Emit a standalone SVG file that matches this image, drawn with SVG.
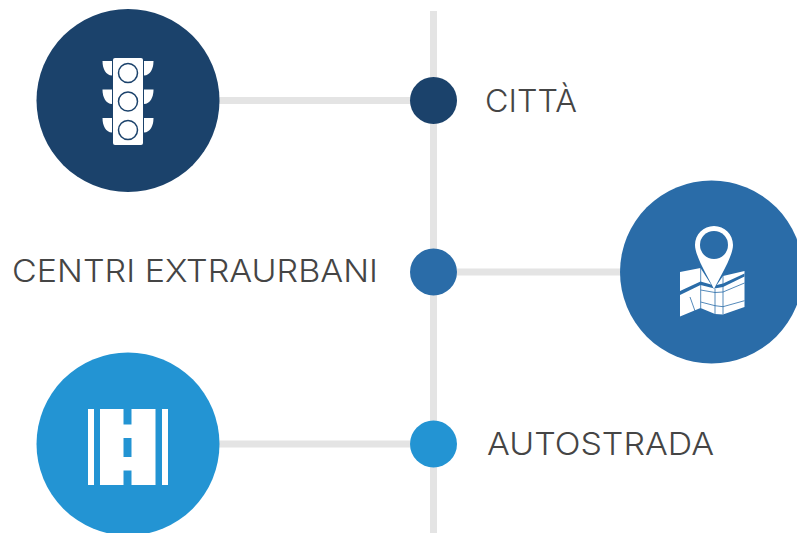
<svg xmlns="http://www.w3.org/2000/svg" width="797" height="533" viewBox="0 0 797 533">
<style>
.conn{stroke:#e4e4e4;stroke-width:7;fill:none}
.lbl{font-family:Inter,"Open Sans","Liberation Sans",sans-serif;font-size:31px;fill:#454545;font-weight:300}
.w{fill:#fff}
.nl{fill:none;stroke:#2a6ca8;stroke-width:0.8}
</style>
<defs>
<g id="hood"><path d="M102.500 61H112V75.500C106 75.500 102.500 69 102.500 61Z" class="w"/><path d="M153.500 61H144V75.500C150 75.500 153.500 69 153.500 61Z" class="w"/></g>
</defs>
<g id="connectors">
<line class="conn" x1="433.500" y1="11" x2="433.500" y2="533"/>
<line class="conn" x1="215" y1="100.500" x2="433" y2="100.500"/>
<line class="conn" x1="433" y1="272" x2="625" y2="272"/>
<line class="conn" x1="215" y1="444" x2="433" y2="444"/>
</g>
<g id="node-citta">
<circle cx="128" cy="100.500" r="91.500" fill="#1b426b"/>
<use href="#hood"/><use href="#hood" y="28.500"/><use href="#hood" y="57"/>
<rect x="113" y="58" width="30" height="87" rx="2" class="w"/>
<g fill="#fff" stroke="#1b426b" stroke-width="1.500"><circle cx="128" cy="73" r="9.500"/><circle cx="128" cy="101.500" r="9.500"/><circle cx="128" cy="130" r="9.500"/></g>
<circle cx="433.500" cy="100.500" r="23.500" fill="#1b426b"/>
<text class="lbl" x="485" y="112" textLength="92" lengthAdjust="spacingAndGlyphs">CITTÀ</text>
</g>
<g id="node-centri">
<circle cx="711.500" cy="272" r="91.500" fill="#2a6ca8"/>
<path d="M680 272L700.500 268L714 289L723 276L744.500 271V307L723 314.500L715 314L700.500 308L680 316.500Z" class="w"/>
<path d="M680 291L700.500 281.500L714.500 285.500L723 283.500L744.500 273.500V276.500L723 287L714.500 288.500L700.500 285L680 295Z" fill="#2a6ca8"/>
<path class="nl" d="M700.700 268V308M715 289V314M723 276V314.500M700.700 302L715 305.700L723 306.700L744.500 300.700M700.700 290L715 292.500L723 292L744.500 283M690 297L695 311"/>
<path d="M714 226C703.500 226 695 234.500 695 245C695 256 708 277 714 289C720 277 733 256 733 245C733 234.500 724.500 226 714 226Z" class="w"/>
<circle cx="714" cy="245" r="14" fill="#2a6ca8"/>
<circle cx="433.500" cy="272" r="23.500" fill="#2a6ca8"/>
<text class="lbl" x="12" y="282" textLength="366" lengthAdjust="spacingAndGlyphs">CENTRI EXTRAURBANI</text>
</g>
<g id="node-autostrada">
<circle cx="128" cy="444" r="91.500" fill="#2394d3"/>
<rect x="88" y="409" width="6" height="76" class="w"/>
<rect x="162" y="409" width="6" height="76" class="w"/>
<path d="M100 409H123.500V424.500H131.500V409H155.500V485H131.500V470.500H123.500V485H100ZM123.500 438V457H131.500V438Z" class="w" fill-rule="evenodd"/>
<circle cx="433.500" cy="444" r="23.500" fill="#2394d3"/>
<text class="lbl" x="487" y="455" textLength="227" lengthAdjust="spacingAndGlyphs">AUTOSTRADA</text>
</g>
</svg>
